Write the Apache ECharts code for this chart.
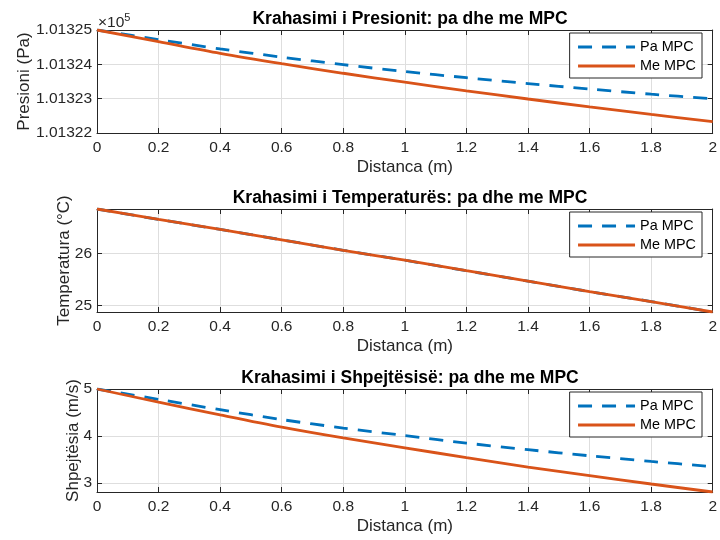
<!DOCTYPE html>
<html><head><meta charset="utf-8">
<script src="https://cdn.jsdelivr.net/npm/echarts@6/dist/echarts.min.js"></script>
<style>html,body{margin:0;padding:0;background:#fff}#c{width:720px;height:540px}</style>
</head><body><div id="c"></div>
<script>
const distance = [0, 0.2, 0.4, 0.6, 0.8, 1.0, 1.2, 1.4, 1.6, 1.8, 2.0];
const pressurePa = [101325.00, 101324.72, 101324.45, 101324.21, 101323.99, 101323.79, 101323.61, 101323.44, 101323.28, 101323.13, 101323.00];
const pressureMe = [101325.00, 101324.66, 101324.32, 101324.02, 101323.74, 101323.48, 101323.23, 101322.99, 101322.76, 101322.54, 101322.33];
const temperaturePa = [26.85, 26.65, 26.46, 26.26, 26.06, 25.87, 25.67, 25.47, 25.27, 25.08, 24.88];
const temperatureMe = [26.85, 26.65, 26.46, 26.26, 26.06, 25.87, 25.67, 25.47, 25.27, 25.08, 24.88];
const speedPa = [5.00, 4.78, 4.56, 4.35, 4.17, 4.01, 3.85, 3.71, 3.58, 3.46, 3.35];
const speedMe = [5.00, 4.72, 4.45, 4.19, 3.96, 3.75, 3.54, 3.34, 3.16, 2.98, 2.81];
const seriesNames = ['Pa MPC', 'Me MPC'];
const titles = ['Krahasimi i Presionit: pa dhe me MPC', 'Krahasimi i Temperaturës: pa dhe me MPC', 'Krahasimi i Shpejtësisë: pa dhe me MPC'];
const yNames = ['Presioni (Pa)', 'Temperatura (°C)', 'Shpejtësia (m/s)'];
const xName = 'Distanca (m)';
const yRanges = [[101322, 101325], [24.88, 26.85], [2.81, 5]];
const xRange = [0, 2];
const xStep = 0.2;

const FONT = 'Liberation Sans';
const AX = '#262626';
const GRID = '#dedede';
const BLUE = '#0072BD', ORANGE = '#D95319';
const gridTops = [30, 209, 389];
const gridH = 103;
const nameGaps = [64, 24, 15];
const pairs = [[pressurePa, pressureMe], [temperaturePa, temperatureMe], [speedPa, speedMe]];

const grids = [], xAxes = [], yAxes = [], series = [], legends = [], titleArr = [];
for (let i = 0; i < 3; i++) {
  grids.push({left: 97, width: 617, top: gridTops[i], height: gridH, containLabel: false});
  const xBase = {gridIndex: i, type: 'value', min: xRange[0], max: xRange[1], interval: xStep,
    axisLine: {show: true, onZero: false, lineStyle: {color: AX, width: 1}},
    axisTick: {show: true, inside: true, length: 5, lineStyle: {color: AX}}};
  xAxes.push(Object.assign({}, xBase, {position: 'bottom',
    name: xName, nameLocation: 'middle', nameGap: 26, nameMoveOverlap: false,
    nameTextStyle: {fontFamily: FONT, fontSize: 17, color: AX},
    axisLabel: {margin: 7, fontFamily: FONT, fontSize: 15.5, color: AX,
      formatter: v => String(Math.round(v * 10) / 10)},
    splitLine: {show: true, lineStyle: {color: GRID, width: 1}}}));
  xAxes.push(Object.assign({}, xBase, {position: 'top', axisLabel: {show: false}, splitLine: {show: false}}));
  const yBase = {gridIndex: i, type: 'value', min: yRanges[i][0], max: yRanges[i][1], splitNumber: (i === 0 ? 3 : 2),
    axisLine: {show: true, onZero: false, lineStyle: {color: AX, width: 1}},
    axisTick: {show: true, inside: true, length: 5, lineStyle: {color: AX}}};
  if (i === 0) yBase.interval = 1;
  yAxes.push(Object.assign({}, yBase, {position: 'left',
    name: yNames[i], nameLocation: 'middle', nameGap: nameGaps[i], nameMoveOverlap: false,
    nameTextStyle: {fontFamily: FONT, fontSize: 17, color: AX},
    axisLabel: {margin: 5, fontFamily: FONT, fontSize: 15.5, color: AX,
      showMinLabel: i === 0, showMaxLabel: i !== 1,
      formatter: i === 0 ? (v => (v / 1e5).toFixed(5)) : (v => String(Math.round(v * 100) / 100))},
    splitLine: {show: true, lineStyle: {color: GRID, width: 1}}}));
  yAxes.push(Object.assign({}, yBase, {position: 'right', axisLabel: {show: false}, splitLine: {show: false}}));
  const [pa, me] = pairs[i];
  series.push({name: seriesNames[0], type: 'line', xAxisIndex: 2 * i, yAxisIndex: 2 * i,
    data: distance.map((d, k) => [d, pa[k]]), showSymbol: false, symbol: 'none', smooth: 0.3,
    lineStyle: {color: BLUE, width: 2.8, type: [14, 10]}, itemStyle: {color: BLUE}, z: 2});
  series.push({name: seriesNames[1], type: 'line', xAxisIndex: 2 * i, yAxisIndex: 2 * i,
    data: distance.map((d, k) => [d, me[k]]), showSymbol: false, symbol: 'none', smooth: 0.3,
    lineStyle: {color: ORANGE, width: 2.8, type: 'solid'}, itemStyle: {color: ORANGE}, z: 3});
  legends.push({orient: 'vertical', right: 18, top: gridTops[i] + 3,
    padding: [7, 6, 5, 7], itemWidth: 57, itemHeight: 14, itemGap: 5,
    borderColor: AX, borderWidth: 1, backgroundColor: '#fff',
    itemStyle: {color: 'rgba(0,0,0,0)', borderWidth: 0, opacity: 0},
    lineStyle: {type: 'inherit', width: 2.8},
    textStyle: {fontFamily: FONT, fontSize: 14.4, color: '#000'}, data: seriesNames});
  titleArr.push({text: titles[i], left: 405, top: gridTops[i] - 25, textAlign: 'center',
    textStyle: {fontFamily: FONT, fontSize: 17.5, fontWeight: 'bold', color: '#000'}});
}

const chart = echarts.init(document.getElementById('c'), null, {renderer: 'canvas'});
chart.setOption({
  animation: false,
  backgroundColor: '#fff',
  title: titleArr,
  grid: grids, xAxis: xAxes, yAxis: yAxes, series: series, legend: legends,
  graphic: [{type: 'text', left: 98, top: 12,
    style: {text: '{a|×10}{b|5}', rich: {
      a: {fontFamily: FONT, fontSize: 15.5, fill: AX, verticalAlign: 'bottom'},
      b: {fontFamily: FONT, fontSize: 11, fill: AX, verticalAlign: 'top', padding: [0, 0, 8, 0]}}}}]
});
</script></body></html>
